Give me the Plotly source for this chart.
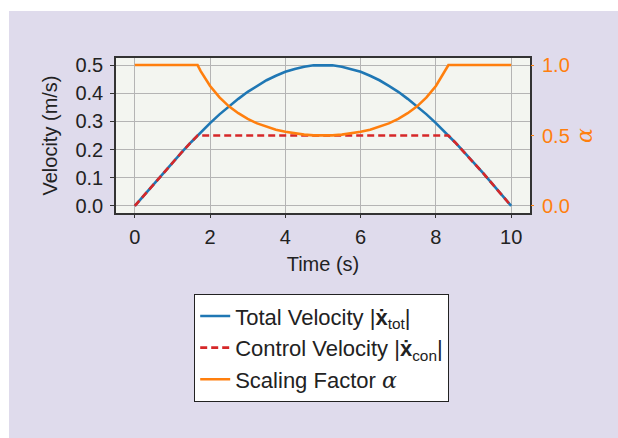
import plotly.graph_objects as go

# Data
time_s = [0, 0.25, 0.5, 0.75, 1.0, 1.25, 1.5, 1.667, 1.75, 2.0, 2.25, 2.5, 2.75, 3.0,
          3.25, 3.5, 3.75, 4.0, 4.25, 4.5, 4.75, 5.0, 5.25, 5.5, 5.75, 6.0, 6.25,
          6.5, 6.75, 7.0, 7.25, 7.5, 7.75, 8.0, 8.25, 8.333, 8.5, 8.75, 9.0, 9.25,
          9.5, 9.75, 10.0]
total_velocity = [0.0, 0.039, 0.078, 0.117, 0.155, 0.191, 0.227, 0.25, 0.261, 0.294,
                  0.325, 0.354, 0.380, 0.405, 0.426, 0.446, 0.462, 0.476, 0.486, 0.494,
                  0.499, 0.5, 0.499, 0.494, 0.486, 0.476, 0.462, 0.446, 0.426, 0.405,
                  0.380, 0.354, 0.325, 0.294, 0.261, 0.25, 0.227, 0.191, 0.155, 0.117,
                  0.078, 0.039, 0.0]
control_velocity = [0.0, 0.039, 0.078, 0.117, 0.155, 0.191, 0.227, 0.25, 0.25, 0.25,
                    0.25, 0.25, 0.25, 0.25, 0.25, 0.25, 0.25, 0.25, 0.25, 0.25,
                    0.25, 0.25, 0.25, 0.25, 0.25, 0.25, 0.25, 0.25, 0.25, 0.25,
                    0.25, 0.25, 0.25, 0.25, 0.25, 0.25, 0.227, 0.191, 0.155, 0.117,
                    0.078, 0.039, 0.0]
scaling_alpha = [1.0, 1.0, 1.0, 1.0, 1.0, 1.0, 1.0, 1.0, 0.957, 0.851,
                 0.770, 0.707, 0.658, 0.618, 0.586, 0.561, 0.541, 0.526, 0.514, 0.506,
                 0.501, 0.500, 0.501, 0.506, 0.514, 0.526, 0.541, 0.561, 0.586, 0.618,
                 0.658, 0.707, 0.770, 0.851, 0.957, 1.0, 1.0, 1.0, 1.0, 1.0,
                 1.0, 1.0, 1.0]

x_ticks = [0, 2, 4, 6, 8, 10]
y_ticks = [0.0, 0.1, 0.2, 0.3, 0.4, 0.5]
y_tick_text = ["0.0", "0.1", "0.2", "0.3", "0.4", "0.5"]
a_ticks = [0.0, 0.5, 1.0]
a_tick_text = ["0.0", "0.5", "1.0"]

FONT = "Liberation Sans, Arial, sans-serif"
TXT = "#222222"
ORANGE = "#ff7f0e"
TICK_SIZE = 20
TITLE_SIZE = 20
LEG_SIZE = 22
ALPHA = '<span style="font-family:DejaVu Serif"><i>α</i></span>'

fig = go.Figure()
fig.add_trace(go.Scatter(x=time_s, y=total_velocity, mode="lines",
                         line=dict(color="#1f77b4", width=2.6),
                         name="Total Velocity |<b>ẋ</b><sub>tot</sub>|"))
fig.add_trace(go.Scatter(x=time_s, y=control_velocity, mode="lines",
                         line=dict(color="#d62728", width=2.6, dash="7px,4px"),
                         name="Control Velocity |<b>ẋ</b><sub>con</sub>|"))
fig.add_trace(go.Scatter(x=time_s, y=scaling_alpha, mode="lines", yaxis="y2",
                         line=dict(color=ORANGE, width=2.6),
                         name="Scaling Factor " + ALPHA))

W, H = 618, 438
L, R, T, B = 116, 88, 58, 225
pw, ph = W - L - R, H - T - B

def px_x(p):
    return (p - L) / pw

def px_y(p):
    return (H - B - p) / ph

fig.update_layout(
    width=W, height=H,
    margin=dict(l=L, r=R, t=T, b=B),
    paper_bgcolor="#dfdbec",
    plot_bgcolor="#f3f5f0",
    font=dict(family=FONT, size=TITLE_SIZE, color=TXT),
    showlegend=True,
    legend=dict(x=px_x(194), y=px_y(294), xanchor="left", yanchor="top",
                bgcolor="white", bordercolor="#222222", borderwidth=1.2,
                font=dict(family=FONT, size=LEG_SIZE, color=TXT),
                itemwidth=30, tracegroupgap=0),
    xaxis=dict(range=[-0.5, 10.5], tickvals=x_ticks, ticks="outside", ticklen=3,
               tickcolor="#333333", showline=True, mirror=True, linecolor="#333333",
               linewidth=1.5, showgrid=True, gridcolor="#b4b4b4", gridwidth=1.2,
               zeroline=False, ticklabelstandoff=2,
               title=dict(text="Time (s)", standoff=10, font=dict(size=TITLE_SIZE)),
               tickfont=dict(size=TICK_SIZE, color=TXT)),
    yaxis=dict(range=[-0.025, 0.525], tickvals=y_ticks, ticktext=y_tick_text,
               ticks="outside", ticklen=4, tickcolor="#333333", showline=True,
               mirror=True, linecolor="#333333", linewidth=1.5, showgrid=True,
               gridcolor="#b4b4b4", gridwidth=1.2, zeroline=False,
               ticklabelstandoff=3,
               title=dict(text="Velocity (m/s)", standoff=12,
                          font=dict(size=TITLE_SIZE)),
               tickfont=dict(size=TICK_SIZE, color=TXT)),
    yaxis2=dict(range=[-0.05, 1.05], tickvals=a_ticks, ticktext=a_tick_text,
                overlaying="y", side="right", ticks="outside", ticklen=3,
                tickcolor=ORANGE, showline=False, showgrid=False, zeroline=False,
                ticklabelstandoff=4,
                tickfont=dict(size=TICK_SIZE, color=ORANGE),
                title=dict(text=ALPHA, standoff=7,
                           font=dict(color=ORANGE, size=TITLE_SIZE + 2))),
    shapes=[
        dict(type="rect", xref="paper", yref="paper", x0=px_x(0), x1=px_x(W),
             y0=px_y(11), y1=px_y(0), fillcolor="white", line=dict(width=0), layer="below"),
        dict(type="rect", xref="paper", yref="paper", x0=px_x(0), x1=px_x(9),
             y0=px_y(H), y1=px_y(0), fillcolor="white", line=dict(width=0), layer="below"),
    ],
)

fig.write_html("out.html")
